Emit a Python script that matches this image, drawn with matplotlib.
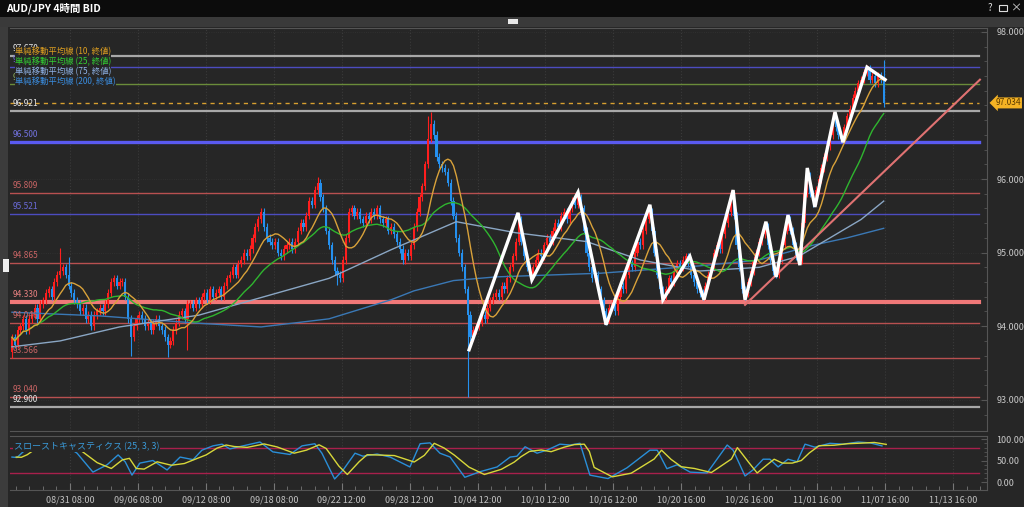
import pandas as pd
import matplotlib
matplotlib.use('Agg')
import matplotlib.pyplot as plt
from matplotlib.patches import Rectangle
from matplotlib.transforms import blended_transform_factory

plt.rcParams['font.family'] = ['Noto Sans CJK JP', 'DejaVu Sans']

# 4h closes, one per bar (bar 0 = left edge)
closes = [
    93.85, 93.75, 93.95, 94.00, 94.10, 93.95, 94.10, 94.15, 94.25, 94.10,
    94.30, 94.35, 94.45, 94.50, 94.40, 94.60, 94.70, 94.75, 94.80, 94.70,
    94.55, 94.45, 94.35, 94.30, 94.20, 94.25, 94.10, 94.15, 94.00, 94.15,
    94.20, 94.25, 94.20, 94.30, 94.45, 94.60, 94.65, 94.55, 94.60, 94.60,
    94.40, 94.10, 93.85, 94.00, 94.10, 94.15, 94.10, 94.00, 94.05, 93.95,
    94.05, 94.10, 94.00, 93.95, 93.85, 93.75, 93.80, 93.95, 94.05, 94.15,
    94.20, 94.10, 94.30, 94.30, 94.25, 94.35, 94.30, 94.40, 94.45, 94.35,
    94.50, 94.40, 94.45, 94.50, 94.40, 94.55, 94.65, 94.70, 94.80, 94.70,
    94.85, 94.90, 95.00, 94.95, 95.05, 95.20, 95.35, 95.45, 95.55, 95.35,
    95.20, 95.15, 95.10, 95.15, 95.00, 94.95, 95.05, 95.10, 95.15, 95.05,
    95.15, 95.30, 95.40, 95.35, 95.50, 95.70, 95.65, 95.85, 95.95, 95.75,
    95.60, 95.30, 95.10, 94.90, 94.75, 94.70, 94.65, 94.90, 95.20, 95.55,
    95.60, 95.50, 95.55, 95.45, 95.40, 95.50, 95.45, 95.55, 95.50, 95.60,
    95.45, 95.40, 95.45, 95.30, 95.35, 95.25, 95.15, 95.05, 94.90, 95.00,
    94.95, 95.10, 95.35, 95.55, 95.75, 95.90, 96.20, 96.55, 96.75, 96.60,
    96.30, 96.20, 96.15, 96.10, 95.95, 95.70, 95.50, 95.20, 95.00, 94.80,
    94.50, 94.15, 93.85, 93.95, 94.00, 94.05, 94.15, 94.10, 94.25, 94.35,
    94.40, 94.45, 94.40, 94.55, 94.50, 94.65, 94.80, 94.95, 95.15, 95.45,
    95.15, 94.95, 94.80, 94.70, 94.80, 94.90, 95.00, 94.95, 95.10, 95.20,
    95.15, 95.30, 95.40, 95.35, 95.50, 95.55, 95.45, 95.60, 95.70, 95.65,
    95.75, 95.60, 95.30, 95.00, 94.80, 94.65, 94.70, 94.50, 94.35, 94.20,
    94.10, 94.25, 94.30, 94.20, 94.40, 94.55, 94.50, 94.70, 94.85, 94.80,
    95.00, 95.15, 95.10, 95.30, 95.45, 95.55, 95.30, 95.00, 94.70, 94.50,
    94.40, 94.50, 94.65, 94.60, 94.75, 94.85, 94.80, 94.90, 94.95, 94.85,
    94.70, 94.60, 94.50, 94.45, 94.40, 94.55, 94.70, 94.80, 95.00, 95.10,
    95.05, 95.25, 95.40, 95.55, 95.75, 95.50, 95.10, 94.80, 94.50, 94.45,
    94.60, 94.75, 94.90, 95.00, 95.15, 95.25, 95.35, 95.10, 94.90, 94.75,
    94.70, 94.90, 95.10, 95.30, 95.45, 95.30, 95.10, 94.95, 94.90, 95.40,
    95.80, 96.05, 95.80, 95.70, 95.85, 96.00, 96.15, 96.30, 96.45, 96.60,
    96.80, 96.70, 96.60, 96.55, 96.70, 96.85, 96.95, 97.10, 97.20, 97.30,
    97.35, 97.45, 97.50, 97.35, 97.40, 97.30, 97.40, 97.35, 97.03,
]
first_open = 93.65
spike_high = {17: 95.06, 20: 94.94, 88: 95.60, 108: 96.03, 147: 96.85, 148: 96.91,
              179: 95.54, 200: 95.82, 225: 95.65, 254: 95.85, 266: 95.42,
              274: 95.51, 281: 96.15, 290: 96.91, 302: 97.55, 308: 97.62}
spike_low = {0: 93.57, 42: 93.60, 55: 93.58, 62: 93.68, 115: 94.56, 161: 93.04,
             210: 94.02, 230: 94.36, 244: 94.36, 259: 94.36, 283: 95.62, 293: 96.50}

ma75_bar = [0, 17, 38, 66, 89, 112, 134, 157, 178, 203, 222, 243, 264, 278, 289, 300, 308]
ma75_val = [93.72, 93.80, 93.99, 94.15, 94.40, 94.65, 95.04, 95.42, 95.27, 95.15,
            94.90, 94.75, 94.80, 94.95, 95.20, 95.45, 95.70]
ma200_bar = [0, 31, 66, 88, 112, 134, 142, 156, 171, 208, 243, 264, 283, 295, 308]
ma200_val = [94.19, 94.14, 94.04, 93.99, 94.10, 94.36, 94.48, 94.62, 94.67, 94.72,
             94.82, 94.90, 95.10, 95.20, 95.33]

level_values = [97.670, 97.526, 97.287, 96.921, 96.500, 95.809, 95.521, 94.865,
                94.330, 94.046, 93.566, 93.040, 92.900]
level_kinds = ['gray', 'blue', 'green', 'gray', 'blue2', 'red', 'blue', 'red',
               'salmon', 'red', 'red', 'red', 'gray']
current_price = 97.034

zig_bar = [161.5, 178.8, 183.7, 200.0, 209.9, 225.4, 230.0, 239.5, 244.5, 254.8,
           259.0, 266.4, 270.0, 274.2, 278.4, 281.0, 283.7, 290.8, 293.6, 302.1, 308.5]
zig_val = [93.68, 95.54, 94.63, 95.82, 94.02, 95.65, 94.36, 94.95, 94.36, 95.85,
           94.36, 95.42, 94.67, 95.51, 94.83, 96.15, 95.62, 96.91, 96.50, 97.52, 97.35]
trend_bar = [259, 342]
trend_val = [94.29, 97.35]

stoch_bar = [0, 1.8, 3.9, 6.4, 9.9, 13.4, 17, 20.5, 23, 28.6, 33.6, 37.5, 40, 42.4,
             45.2, 49.8, 54.8, 59.4, 64, 67.1, 71, 74.2, 77, 81.6, 87.6, 92.2, 98.2,
             102.5, 107, 109.5, 114, 117, 121.2, 124, 129, 133.6, 140.6, 144.2, 147.7,
             151.2, 154.8, 160, 165.4, 171.4, 176, 178.4, 181.3, 185.5, 189, 193.6,
             197.2, 200.7, 202.5, 204.2, 210.6, 217.3, 225.4, 228, 231.4, 235, 239.6,
             245.6, 252.7, 254.8, 259, 261.8, 265.4, 267.8, 270.7, 274.2, 277.4,
             280.2, 283.7, 289, 293.6, 299, 303.2, 307.4]
stoch_k = [58, 57, 70, 80, 88, 90, 88, 78, 67, 23, 40, 63, 47, 16,
           44, 50, 28, 58, 52, 74, 84, 88, 77, 84, 93, 70, 64,
           84, 89, 67, 7, 28, 67, 60, 65, 58, 35, 89, 91,
           67, 58, 11, 24, 35, 58, 60, 82, 67, 74, 88,
           86, 90, 52, 16, 8, 33, 74, 74, 31, 40, 23,
           21, 86, 74, 14, 28, 53, 53, 35, 53, 47,
           88, 81, 90, 88, 93, 91, 84]

xtick_labels = ['08/31 08:00', '09/06 08:00', '09/12 08:00', '09/18 08:00',
                '09/22 12:00', '09/28 12:00', '10/04 12:00', '10/10 12:00',
                '10/16 12:00', '10/20 16:00', '10/26 16:00', '11/01 16:00',
                '11/07 16:00', '11/13 16:00']

BG = '#262626'
W, H = 1024, 507
fig = plt.figure(figsize=(W / 100, H / 100), dpi=100)
fig.patch.set_facecolor(BG)


def fx(px):
    return px / W


def fy(py):
    return 1 - py / H


ax = fig.add_axes([fx(10), fy(431), fx(977), (431 - 28) / H])
sx = fig.add_axes([fx(10), fy(490), fx(977), (490 - 436) / H], sharex=ax)
for a in (ax, sx):
    a.set_facecolor(BG)
    for s in a.spines.values():
        s.set_color('#555555')
    a.spines['left'].set_visible(False)

# candles
df = pd.DataFrame({'close': closes})
df['open'] = df['close'].shift(1).fillna(first_open)
df['top'] = df[['open', 'close']].max(axis=1)
df['bot'] = df[['open', 'close']].min(axis=1)
df['high'] = df['top'] + 0.05
df['low'] = df['bot'] - 0.05
for k, v in spike_high.items():
    df.loc[k, 'high'] = v
for k, v in spike_low.items():
    df.loc[k, 'low'] = v
up = df['close'] >= df['open']
cols = ['#ff1e1e' if u else '#2590ee' for u in up]
ax.vlines(df.index, df['low'], df['high'], colors=cols, lw=0.8, zorder=3)
ax.bar(df.index, (df['top'] - df['bot']).clip(lower=0.02), bottom=df['bot'],
       width=0.75, color=cols, linewidth=0, zorder=3)

# moving averages
ma10 = df['close'].rolling(10, min_periods=1).mean()
ma25 = df['close'].rolling(25, min_periods=1).mean()
ax.plot(ma200_bar, ma200_val, color='#3a78b5', lw=1.0, zorder=4)
ax.plot(ma75_bar, ma75_val, color='#8aa6c4', lw=1.0, zorder=4)
ax.plot(df.index, ma25, color='#2fb52f', lw=1.0, zorder=4)
ax.plot(df.index, ma10, color='#d9a23a', lw=1.0, zorder=4)

# horizontal levels
styles = {
    'gray': ('#a8a8a8', 1.6, '#e6e6e6'),
    'blue': ('#4c4cc0', 1.0, '#6a6ad8'),
    'green': ('#6a8c3a', 1.0, '#8fb060'),
    'blue2': ('#5a5af0', 2.4, '#7272e0'),
    'red': ('#b85050', 1.0, '#c86464'),
    'salmon': ('#f07878', 3.0, '#e88080'),
}
for v, kind in zip(level_values, level_kinds):
    c, lw, tc = styles[kind]
    ax.plot([-0.7, 341.5], [v, v], color=c, lw=lw, zorder=2)
    ax.annotate(f'{v:.3f}', (0.3, v), xytext=(0, 2), textcoords='offset points',
                ha='left', va='bottom', fontsize=6, color=tc, zorder=6)

ax.plot([-0.7, 341.5], [current_price, current_price], color='#d8a030', lw=1.0,
        ls=(0, (3, 3)), zorder=2)
trans = blended_transform_factory(ax.transAxes, ax.transData)
ax.annotate(f'{current_price:.3f}', (1.0, current_price), xycoords=trans,
            xytext=(6, 0), textcoords='offset points', ha='left', va='center',
            fontsize=6, color='#5a3a00',
            bbox=dict(boxstyle='larrow,pad=0.12', fc='#f5b324', ec='none'),
            annotation_clip=False, zorder=8)

# drawn objects
ax.plot(trend_bar, trend_val, color='#e07272', lw=1.5, zorder=5)
ax.plot(zig_bar, zig_val, color='white', lw=2.4, zorder=6, solid_joinstyle='miter')

ax.set_ylim(92.576, 98.052)
ax.set_xlim(-0.7, 344.5)
ax.yaxis.tick_right()
# 97.000 label sits under the current-price tag, so only a minor tick there
ax.set_yticks([93, 94, 95, 96, 98])
ax.set_yticks([93 + 0.2 * k for k in range(-1, 26)], minor=True)
ax.yaxis.set_major_formatter(plt.FormatStrFormatter('%.3f'))
ax.tick_params(axis='y', which='both', direction='in', colors='#555555',
               labelcolor='#c8c8c8', labelsize=6.5, pad=7, length=4)
ax.tick_params(axis='y', which='minor', length=2)
ax.tick_params(axis='x', which='both', bottom=False, labelbottom=False)

major_x = [20.5 + 24 * k for k in range(14)]
minor_x = [20.5 - 24 + 4.8 * k for k in range(75)]
ax.grid(axis='x', color='#3a3a3a', ls=':', lw=0.8)
ax.grid(axis='y', color='#333333', ls=':', lw=0.6)

# stochastic
stoch_d = pd.Series(stoch_k).rolling(2, min_periods=1).mean()
for v in (80, 20):
    sx.plot([-0.7, 341.5], [v, v], color='#a8204c', lw=1.0)
sx.plot(stoch_bar, stoch_k, color='#2a8fd8', lw=1.0)
sx.plot([b + 1.5 for b in stoch_bar], stoch_d, color='#d8d83a', lw=1.0)
sx.set_ylim(-18.6, 107)
sx.yaxis.tick_right()
sx.set_yticks([0, 50, 100])
sx.set_yticks(range(0, 101, 10), minor=True)
sx.yaxis.set_major_formatter(plt.FormatStrFormatter('%.2f'))
sx.tick_params(axis='y', which='both', direction='in', colors='#555555',
               labelcolor='#c8c8c8', labelsize=6.5, pad=7, length=4)
sx.tick_params(axis='y', which='minor', length=2)
sx.set_xticks(major_x)
sx.set_xticks(minor_x, minor=True)
sx.set_xticklabels(xtick_labels)
sx.tick_params(axis='x', which='both', direction='in', colors='#777777',
               labelcolor='#c0c0c0', labelsize=6.5, pad=4, length=5)
sx.tick_params(axis='x', which='minor', length=3)
sx.grid(axis='x', color='#3a3a3a', ls=':', lw=0.8)
sx.set_xlim(-0.7, 344.5)
fig.text(fx(14), fy(447), 'スローストキャスティクス (25, 3, 3)', fontsize=6.5,
         color='#3a9ad8', va='center', bbox=dict(fc=BG, ec='none', pad=0.5),
         zorder=10)

# MA legend
legend_lines = ['単純移動平均線 (10, 終値)', '単純移動平均線 (25, 終値)',
                '単純移動平均線 (75, 終値)', '単純移動平均線 (200, 終値)']
legend_cols = ['#e0a020', '#33d033', '#8fb3e8', '#3a8de0']
for k, (t, c) in enumerate(zip(legend_lines, legend_cols)):
    fig.text(fx(15), fy(52 + 10 * k), t, fontsize=6, color=c, va='center',
             bbox=dict(fc=BG, ec='none', pad=0), zorder=10)

# window chrome
fig.patches.append(Rectangle((0, fy(17)), 1, 17 / H, transform=fig.transFigure,
                             fc='#0c0c0c', ec='none', zorder=0))
fig.patches.append(Rectangle((0, fy(27)), 1, 10 / H, transform=fig.transFigure,
                             fc='#3a3a3a', ec='none', zorder=0))
fig.patches.append(Rectangle((0, 0), fx(8), fy(27), transform=fig.transFigure,
                             fc='#3c3c3c', ec='none', zorder=0))
fig.patches.append(Rectangle((fx(508), fy(24)), fx(10), 5 / H, transform=fig.transFigure,
                             fc='#e8e8e8', ec='none', zorder=1))
fig.patches.append(Rectangle((fx(3), fy(272)), fx(6), 13 / H, transform=fig.transFigure,
                             fc='#f0f0f0', ec='none', zorder=1))
fig.text(fx(6), fy(8), 'AUD/JPY 4時間 BID', fontsize=7.5, color='white', va='center',
         fontweight='bold')
fig.text(fx(990), fy(8), '?', fontsize=7, color='#dddddd', va='center', ha='center')
fig.patches.append(Rectangle((fx(999), fy(11)), fx(8), 6 / H, transform=fig.transFigure,
                             fc='none', ec='#dddddd', lw=0.8, zorder=1))
fig.text(fx(1016), fy(8), '×', fontsize=8, color='#dddddd', va='center', ha='center')

fig.savefig('out.png', dpi=100, facecolor=fig.get_facecolor())
